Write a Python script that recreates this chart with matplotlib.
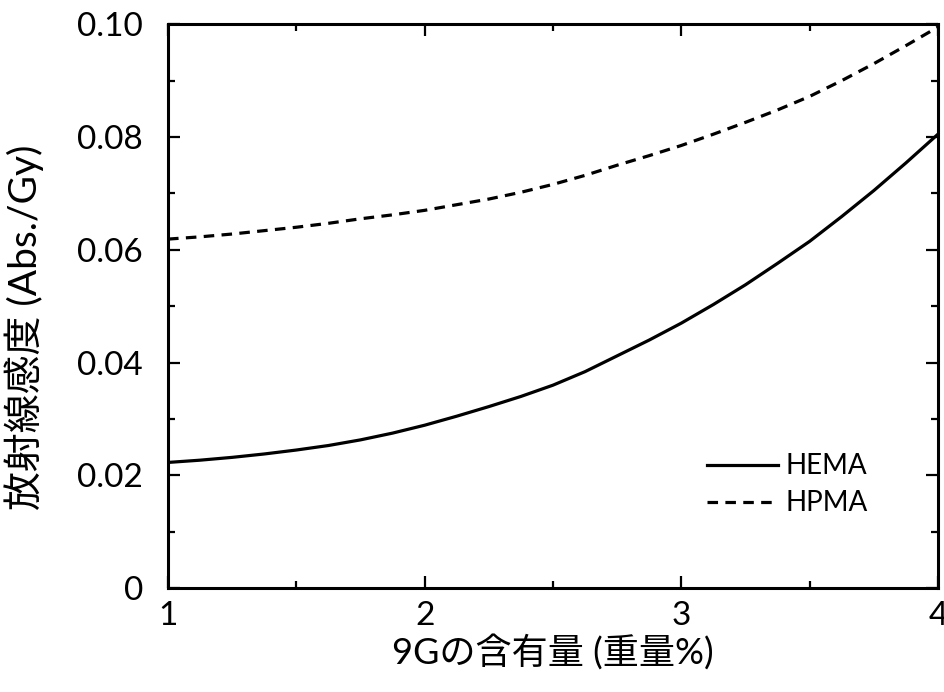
import matplotlib
matplotlib.use("Agg")
import matplotlib.pyplot as plt
from matplotlib.ticker import MultipleLocator, FixedFormatter, FixedLocator

plt.rcParams["font.family"] = ["Lato", "Noto Sans CJK JP", "DejaVu Sans"]

# 9G content (wt%) and sensitivity
content = [1.0, 1.125, 1.25, 1.375, 1.5, 1.625, 1.75, 1.875, 2.0, 2.125,
           2.25, 2.375, 2.5, 2.625, 2.75, 2.875, 3.0, 3.125, 3.25, 3.375,
           3.5, 3.625, 3.75, 3.875, 4.0]
hema = [0.0223, 0.0227, 0.0232, 0.0238, 0.0245, 0.0253, 0.0263, 0.0275,
        0.0289, 0.0305, 0.0322, 0.0340, 0.0360, 0.0384, 0.0412, 0.0440,
        0.0470, 0.0503, 0.0538, 0.0576, 0.0615, 0.0659, 0.0705, 0.0754,
        0.0805]
hpma = [0.0619, 0.0623, 0.0628, 0.0634, 0.0640, 0.0647, 0.0655, 0.0662,
        0.0670, 0.0680, 0.0690, 0.0702, 0.0716, 0.0732, 0.0750, 0.0767,
        0.0785, 0.0805, 0.0826, 0.0848, 0.0872, 0.0900, 0.0930, 0.0962,
        0.0995]

y_ticks = [0, 0.02, 0.04, 0.06, 0.08, 0.10]
y_labels = ["0", "0.02", "0.04", "0.06", "0.08", "0.10"]
x_ticks = [1, 2, 3, 4]
x_labels = ["1", "2", "3", "4"]

fig = plt.figure(figsize=(9.44, 6.92), dpi=100)
ax = fig.add_axes([0.178, 0.150, 0.8156, 0.815])

ax.plot(content, hema, color="black", lw=2.3, label="HEMA")
ax.plot(content, hpma, color="black", lw=2.3, linestyle=(0, (3.3, 2.3)),
        label="HPMA")

ax.set_xlim(1, 4)
ax.set_ylim(0, 0.10)
ax.xaxis.set_major_locator(FixedLocator(x_ticks))
ax.xaxis.set_major_formatter(FixedFormatter(x_labels))
ax.xaxis.set_minor_locator(MultipleLocator(0.5))
ax.yaxis.set_major_locator(FixedLocator(y_ticks))
ax.yaxis.set_major_formatter(FixedFormatter(y_labels))
ax.yaxis.set_minor_locator(MultipleLocator(0.01))

ax.tick_params(which="both", direction="in", top=True, right=True,
               width=1.6, labelsize=24)
ax.tick_params(which="major", length=8.5)
ax.tick_params(which="minor", length=5)
ax.tick_params(axis="y", pad=18)
ax.tick_params(axis="x", pad=9)
for s in ax.spines.values():
    s.set_linewidth(2.2)

ax.set_xlabel("9Gの含有量 (重量%)", fontsize=26, labelpad=2)
ax.set_ylabel("放射線感度 (Abs./Gy)", fontsize=28)
ax.yaxis.set_label_coords(-0.161, 0.463)

ax.legend(loc="lower left", bbox_to_anchor=(0.668, 0.083), frameon=False,
          fontsize=20, handlelength=2.55, handletextpad=0.25,
          labelspacing=0.4)

fig.savefig("out.png", dpi=100)
